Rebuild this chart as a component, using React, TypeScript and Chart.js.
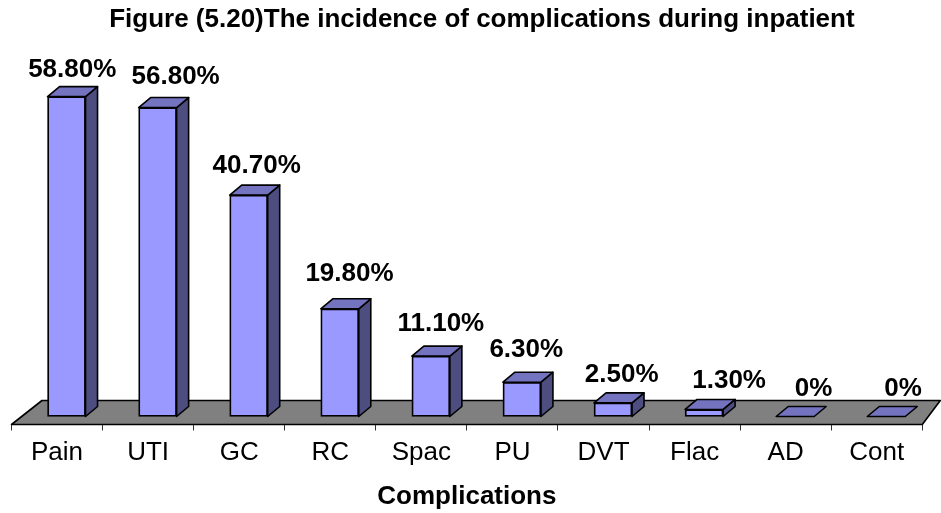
import React, { useEffect, useRef } from "react";
import { Chart, registerables } from "chart.js";

Chart.register(...registerables);

const categories = ["Pain", "UTI", "GC", "RC", "Spac", "PU", "DVT", "Flac", "AD", "Cont"];
const values = [58.8, 56.8, 40.7, 19.8, 11.1, 6.3, 2.5, 1.3, 0, 0];
const valueLabels = ["58.80%", "56.80%", "40.70%", "19.80%", "11.10%", "6.30%", "2.50%", "1.30%", "0%", "0%"];
const titleText = "Figure (5.20)The incidence of complications during inpatient";
const xTitleText = "Complications";

const FONT = '"Liberation Sans", Arial, sans-serif';
const DEPTH_X = 12;
const DEPTH_Y = 10;
const labelNudgeX = [5.7, 18, 8, 9.7, 10, 4.3, 8.7, 25, 18.3, 16.7];
const labelGapY = [10, 14, 12.4, 17.6, 15, 15.6, 11.3, 11, 10.6, 10.6];

const poly = (ctx: CanvasRenderingContext2D, pts: number[][], fill: string) => {
  ctx.beginPath();
  pts.forEach((p, i) => (i ? ctx.lineTo(p[0], p[1]) : ctx.moveTo(p[0], p[1])));
  ctx.closePath();
  ctx.fillStyle = fill;
  ctx.fill();
  ctx.stroke();
};

const bar3d = {
  id: "bar3d",
  afterLayout(chart: any) {
    if (chart.titleBlock) {
      chart.titleBlock.left += 15;
      chart.titleBlock.right += 15;
    }
  },
  afterDatasetsUpdate(chart: any) {
    chart.getDatasetMeta(0).data.forEach((el: any) => {
      el.x += 9.5;
    });
  },
  beforeDatasetsDraw(chart: any) {
    const { ctx } = chart;
    const x = chart.scales.x;
    const y = chart.scales.y;
    const base = y.getPixelForValue(0);
    ctx.save();
    ctx.strokeStyle = "#000";
    ctx.lineWidth = 1.6;
    ctx.lineJoin = "round";
    const front = y.bottom;
    const back = front - 24;
    poly(ctx, [[x.left, front], [x.left + 30.5, back], [x.right + 18, back], [x.right, front]], "#808080");
    chart.getDatasetMeta(0).data.forEach((el: any) => {
      const l = el.x - el.width / 2;
      const r = el.x + el.width / 2;
      const t = el.y;
      if (t < base) {
        poly(ctx, [[r, t], [r + DEPTH_X, t - DEPTH_Y], [r + DEPTH_X, base - DEPTH_Y], [r, base]], "#4D4D80");
      }
      poly(ctx, [[l, t], [l + DEPTH_X, t - DEPTH_Y], [r + DEPTH_X, t - DEPTH_Y], [r, t]], "#7373C0");
    });
    ctx.restore();
  },
  afterDatasetsDraw(chart: any) {
    const { ctx } = chart;
    ctx.save();
    ctx.fillStyle = "#000";
    ctx.font = `bold 26px ${FONT}`;
    ctx.textAlign = "center";
    ctx.textBaseline = "alphabetic";
    chart.getDatasetMeta(0).data.forEach((el: any, i: number) => {
      ctx.fillText(valueLabels[i], el.x + labelNudgeX[i], el.y - DEPTH_Y - labelGapY[i]);
    });
    ctx.restore();
  },
};

export default function App() {
  const ref = useRef<HTMLCanvasElement>(null);
  useEffect(() => {
    const chart = new Chart(ref.current as HTMLCanvasElement, {
      type: "bar",
      data: {
        labels: categories,
        datasets: [
          {
            data: values,
            backgroundColor: "#9999FF",
            borderColor: "#000",
            borderWidth: 1.8,
            borderSkipped: false,
            barThickness: 38,
          },
        ],
      },
      plugins: [bar3d],
      options: {
        responsive: false,
        animation: false,
        layout: { padding: { left: 11.5, right: 18.7, top: 0, bottom: 0 } },
        plugins: {
          legend: { display: false },
          tooltip: { enabled: false },
          title: {
            display: true,
            text: titleText,
            color: "#000",
            font: { family: FONT, size: 26, weight: "bold" },
            padding: { top: 4.5, bottom: 4 },
          },
        },
        scales: {
          x: {
            grid: { offset: true, drawOnChartArea: false, tickLength: 6, color: "#333" },
            border: { display: false },
            ticks: { color: "#000", font: { family: FONT, size: 26 }, maxRotation: 0, autoSkip: false, padding: 7 },
            title: {
              display: true,
              text: xTitleText,
              color: "#000",
              font: { family: FONT, size: 26, weight: "bold" },
              padding: { top: 8, bottom: 1 },
            },
            afterFit(scale: any) {
              scale.height = 88.5;
            },
          },
          y: {
            display: false,
            min: -1.47,
            max: 69.27,
          },
        },
      },
    } as any);
    return () => chart.destroy();
  }, []);
  return (
    <div style={{ position: "fixed", left: 0, top: 0, width: 941, height: 513, background: "#fff" }}>
      <canvas ref={ref} width={941} height={513} style={{ display: "block" }} />
    </div>
  );
}
